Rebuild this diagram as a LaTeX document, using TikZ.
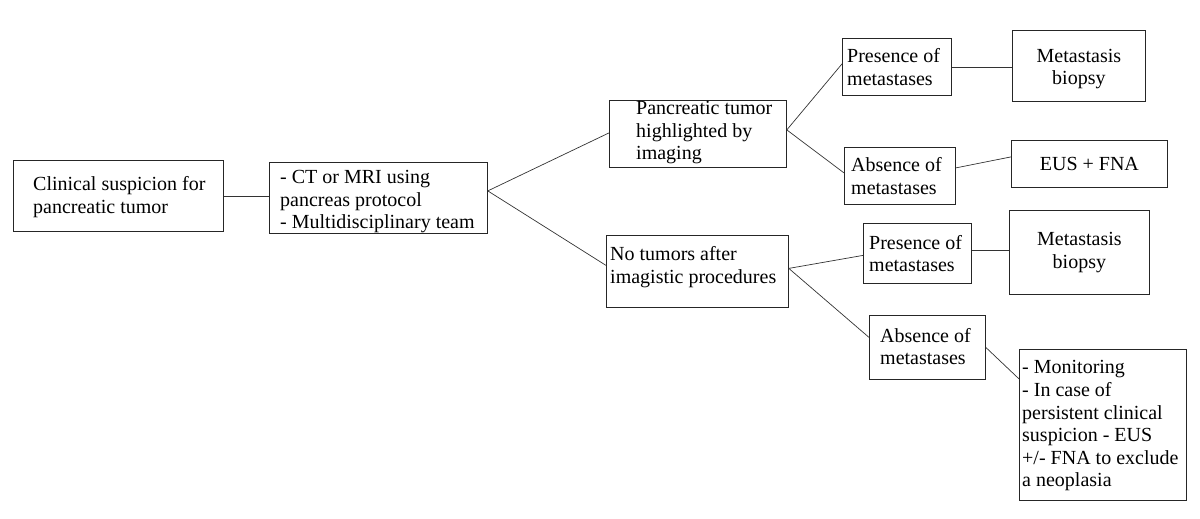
\documentclass[tikz,border=0pt]{standalone}
\usepackage{fontspec}
\setmainfont{Liberation Serif}
\begin{document}
\begin{tikzpicture}[x=1pt,y=-1pt,
  box/.style={draw=black!85,line width=0.8pt,rectangle,inner sep=0pt,anchor=north west},
  txt/.style={anchor=west,align=left,inner sep=0pt,font=\fontsize{20}{22.6}\selectfont},
  ctxt/.style={anchor=center,align=center,inner sep=0pt,font=\fontsize{20}{22.6}\selectfont},
  conn/.style={draw=black!80,line width=0.7pt}]
\useasboundingbox (0,0) rectangle (1200,519);
% boxes
\node[box,minimum width=210pt,minimum height=71pt] (clin) at (13,160) {};
\node[txt] (clint) at ([xshift=20pt,yshift=-1pt]clin.west) {Clinical suspicion for\\pancreatic tumor};
\node[box,minimum width=218pt,minimum height=71pt] (ct) at (269,162) {};
\node[txt] (ctt) at ([xshift=11pt,yshift=-4pt]ct.west) {- CT or MRI using\\pancreas protocol\\- Multidisciplinary team};
\node[box,minimum width=177pt,minimum height=67pt] (pt) at (609,100) {};
\node[txt] (ptt) at ([xshift=27pt,yshift=1pt]pt.west) {Pancreatic tumor\\highlighted by\\imaging};
\node[box,minimum width=182pt,minimum height=72pt] (nt) at (606,235) {};
\node[txt] (ntt) at ([xshift=4pt,yshift=4pt]nt.west) {No tumors after\\imagistic procedures};
\node[box,minimum width=109pt,minimum height=57pt] (p1) at (842,38) {};
\node[txt] (p1t) at ([xshift=5pt]p1.west) {Presence of\\metastases};
\node[box,minimum width=133pt,minimum height=71pt] (mb1) at (1012,30) {};
\node[ctxt] (mb1t) at ([yshift=-3pt]mb1.center) {Metastasis\\biopsy};
\node[box,minimum width=111pt,minimum height=57pt] (a1) at (844,147) {};
\node[txt] (a1t) at ([xshift=7pt]a1.west) {Absence of\\metastases};
\node[box,minimum width=156pt,minimum height=47pt] (eus) at (1011,140) {};
\node[ctxt] (eust) at (eus.center) {EUS + FNA};
\node[box,minimum width=108pt,minimum height=60pt] (p2) at (863,223) {};
\node[txt] (p2t) at ([xshift=6pt]p2.west) {Presence of\\metastases};
\node[box,minimum width=140pt,minimum height=84pt] (mb2) at (1009,210) {};
\node[ctxt] (mb2t) at ([yshift=0pt]mb2.center) {Metastasis\\biopsy};
\node[box,minimum width=116pt,minimum height=64pt] (a2) at (869,315) {};
\node[txt] (a2t) at ([xshift=11pt,yshift=1pt]a2.west) {Absence of\\metastases};
\node[box,minimum width=167pt,minimum height=151pt] (mon) at (1019,349) {};
\node[txt] (mont) at ([xshift=3pt,yshift=-1pt]mon.west) {- Monitoring\\- In case of\\persistent clinical\\suspicion - EUS\\+/- FNA to exclude\\a neoplasia};
% connectors
\draw[conn] (clin.east) -- (clin.east -| ct.west);
\draw[conn] ([yshift=7pt]ct.east) -- ([yshift=1pt]pt.west);
\draw[conn] ([yshift=7pt]ct.east) -- ([yshift=6pt]nt.west);
\draw[conn] ([yshift=4pt]pt.east) -- ([yshift=3pt]p1.west);
\draw[conn] ([yshift=4pt]pt.east) -- ([yshift=3pt]a1.west);
\draw[conn] (p1.east) -- (p1.east -| mb1.west);
\draw[conn] ([yshift=8pt]a1.east) -- ([yshift=7pt]eus.west);
\draw[conn] ([yshift=3pt]nt.east) -- ([yshift=-2pt]p2.west);
\draw[conn] ([yshift=3pt]nt.east) -- ([yshift=10pt]a2.west);
\draw[conn] ([yshift=3pt]p2.east) -- ([yshift=3pt]p2.east -| mb2.west);
\draw[conn] (a2.east) -- ([yshift=46pt]mon.west);
\end{tikzpicture}
\end{document}
